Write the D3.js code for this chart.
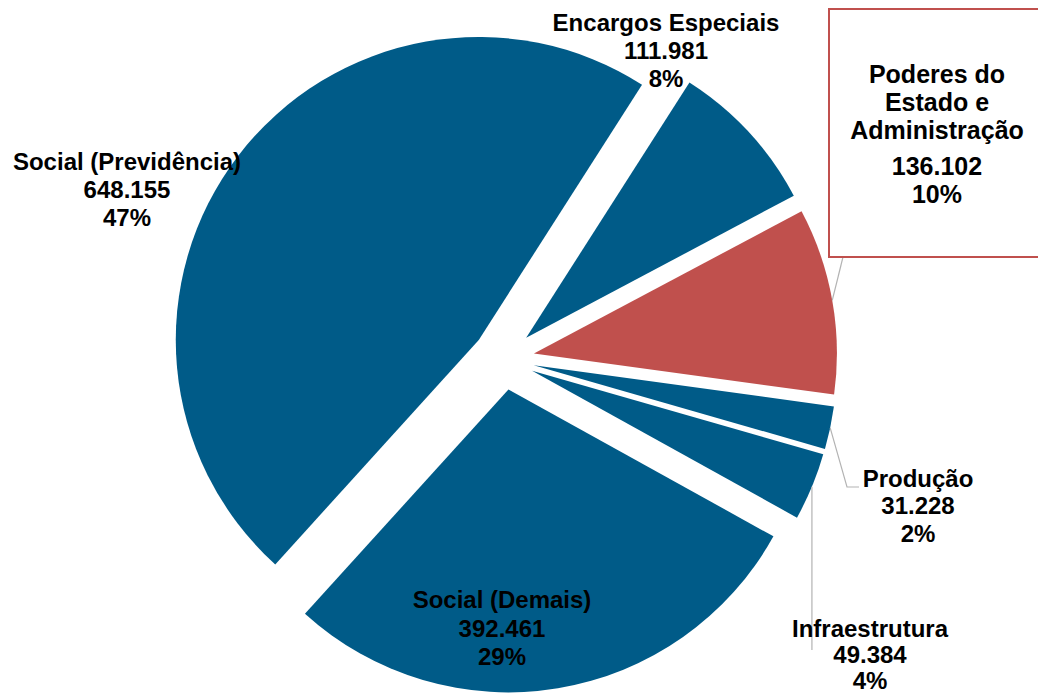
<!DOCTYPE html>
<html>
<head>
<meta charset="utf-8">
<script src="https://cdn.jsdelivr.net/npm/d3@7"></script>
<style>
  html, body { margin: 0; padding: 0; background: #fff; }
  svg { display: block; }
  text { font-family: "Liberation Sans", Arial, sans-serif; font-weight: bold; fill: #000; }
</style>
</head>
<body>
<svg id="chart" width="1038" height="696"></svg>
<script>
// ---- data ----
const categories = ["Encargos Especiais", "Poderes do Estado e Administração", "Produção", "Infraestrutura", "Social (Demais)", "Social (Previdência)"];
const values = [111981, 136102, 31228, 49384, 392461, 648155];
const colors = ["#005b88", "#c0504d", "#005b88", "#005b88", "#005b88", "#005b88"];
// how each category name is broken into lines in its label
const nameLines = [
  ["Encargos Especiais"],
  ["Poderes do", "Estado e", "Administração"],
  ["Produção"],
  ["Infraestrutura"],
  ["Social (Demais)"],
  ["Social (Previdência)"]
];

// ---- layout ----
const W = 1038, H = 696;
const cx = 503.4, cy = 358.8, R = 303, explode = 31;
const startDeg = 32.6;
const labelLayout = [
  { x: 666, ys: [31, 59, 87], size: 24 },
  { x: 937, ys: [83, 111, 139, 175, 203], size: 25 },
  { x: 918, ys: [487, 514, 542], size: 24 },
  { x: 870, ys: [637, 663, 689], size: 24 },
  { x: 502, ys: [608, 637, 665], size: 24 },
  { x: 127, ys: [170, 198, 226], size: 24 }
];
// leader line label-side points (slice-side point comes from the arc)
const leaders = {
  1: [[843, 257]],
  2: [[847, 487], [859, 487]],
  3: [[null, 650]]
};

const locale = d3.formatLocale({ decimal: ",", thousands: ".", grouping: [3], currency: ["R$", ""] });
const fmt = locale.format(",d");
const total = d3.sum(values);

const svg = d3.select("#chart");
const data = categories.map((c, i) => ({ name: c, value: values[i], color: colors[i], i }));

const start = startDeg * Math.PI / 180;
const pie = d3.pie().sort(null).value(d => d.value).startAngle(start).endAngle(start + 2 * Math.PI);
const arcs = pie(data);
const arc = d3.arc().innerRadius(0).outerRadius(R);
const rimArc = d3.arc().innerRadius(R).outerRadius(R);

const offset = a => {
  const m = (a.startAngle + a.endAngle) / 2;
  return [explode * Math.sin(m), -explode * Math.cos(m)];
};

const g = svg.append("g").attr("transform", `translate(${cx},${cy})`);
g.selectAll("path.slice").data(arcs).join("path")
  .attr("class", "slice")
  .attr("d", arc)
  .attr("fill", d => d.data.color)
  .attr("transform", d => { const o = offset(d); return `translate(${o[0]},${o[1]})`; });

// leader lines
arcs.forEach(a => {
  const pts = leaders[a.data.i];
  if (!pts) return;
  const o = offset(a);
  const c = rimArc.centroid(a);
  const p0 = [cx + o[0] + c[0], cy + o[1] + c[1]];
  const line = [p0].concat(pts.map(p => [p[0] == null ? p0[0] : p[0], p[1]]));
  svg.append("path")
    .attr("d", d3.line()(line))
    .attr("fill", "none")
    .attr("stroke", "#b3b3b3")
    .attr("stroke-width", 1.2);
});

// box for Poderes label
svg.append("rect")
  .attr("x", 829).attr("y", 9).attr("width", 220).attr("height", 248)
  .attr("fill", "#fff").attr("stroke", "#c0504d").attr("stroke-width", 2);

// labels
arcs.forEach(a => {
  const L = labelLayout[a.data.i];
  const lines = nameLines[a.data.i].concat([fmt(a.data.value), Math.round(a.data.value / total * 100) + "%"]);
  const t = svg.append("text").attr("text-anchor", "middle").style("font-size", L.size + "px");
  lines.forEach((s, k) => {
    t.append("tspan").attr("x", L.x).attr("y", L.ys[k]).text(s);
  });
});
</script>
</body>
</html>
